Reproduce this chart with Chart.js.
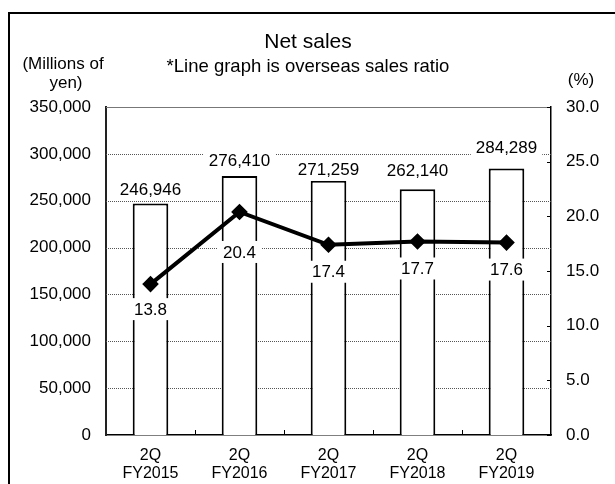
<!DOCTYPE html>
<html>
<head>
<meta charset="utf-8">
<script src="https://cdn.jsdelivr.net/npm/chart.js@4/dist/chart.umd.min.js"></script>
<style>
  html,body{margin:0;padding:0;background:#fff;}
  #wrap{width:615px;height:484px;}
</style>
</head>
<body>
<div id="wrap"><canvas id="c" width="615" height="484"></canvas></div>
<script>
// --- Data ---
const categories = [['2Q','FY2015'],['2Q','FY2016'],['2Q','FY2017'],['2Q','FY2018'],['2Q','FY2019']];
const netSales = [246946, 276410, 271259, 262140, 284289];
const overseasRatio = [13.8, 20.4, 17.4, 17.7, 17.6];
const salesTicks = [0, 50000, 100000, 150000, 200000, 250000, 300000, 350000];
const ratioTicks = [0, 5, 10, 15, 20, 25, 30];

// label offsets (px) - the reference places them by hand
const barLabelGap = [14, 16, 11, 19, 21];
const lineLabelGap = [25, 40, 27, 27, 27];

const FONT = '"Liberation Sans", Arial, sans-serif';

const fmt = v => Number(v).toLocaleString('en-US');

function labelBox(ctx, text, x, y){
  ctx.font = '17px ' + FONT;
  const w = ctx.measureText(text).width + 10;
  const h = 22;
  ctx.fillStyle = '#fff';
  ctx.fillRect(x - w/2, y - h/2, w, h);
  ctx.fillStyle = '#000';
  ctx.textAlign = 'center';
  ctx.textBaseline = 'middle';
  ctx.fillText(text, x, y + 1);
}

const decor = {
  id:'decor',
  beforeDraw(chart){
    const ctx = chart.ctx;
    ctx.save();
    ctx.fillStyle = '#fff';
    ctx.fillRect(0,0,chart.width,chart.height);
    // outer frame (left + top, rest is cropped)
    ctx.strokeStyle = '#000';
    ctx.lineWidth = 2;
    ctx.beginPath();
    ctx.moveTo(9, chart.height); ctx.lineTo(9, 13); ctx.lineTo(chart.width, 13);
    ctx.stroke();
    // titles
    ctx.fillStyle = '#000';
    ctx.textAlign = 'center';
    ctx.textBaseline = 'middle';
    ctx.font = '21px ' + FONT;
    ctx.fillText('Net sales', 308, 42);
    ctx.font = '18.5px ' + FONT;
    ctx.fillText('*Line graph is overseas sales ratio', 308, 67);
    ctx.font = '17px ' + FONT;
    ctx.fillText('(Millions of', 63, 64);
    ctx.fillText('yen)', 66, 83);
    ctx.fillText('(%)', 581, 80);
    ctx.restore();
  },
  beforeDatasetsDraw(chart){
    const ctx = chart.ctx, a = chart.chartArea;
    const y = chart.scales.y, y1 = chart.scales.y1, x = chart.scales.x;
    const top = salesTicks[salesTicks.length-1];
    ctx.save();
    ctx.lineWidth = 1;
    salesTicks.forEach(v => {
      if (v === 0) return;
      const py = Math.round(y.getPixelForValue(v)) + 0.5;
      ctx.strokeStyle = v === top ? '#777' : '#555';
      ctx.setLineDash(v === top ? [] : [1,1]);
      ctx.beginPath(); ctx.moveTo(a.left, py); ctx.lineTo(a.right, py); ctx.stroke();
    });
    ctx.setLineDash([]);
    // right axis inner ticks
    ctx.strokeStyle = '#000';
    ratioTicks.forEach(v => {
      const py = Math.round(y1.getPixelForValue(v)) + 0.5;
      ctx.beginPath(); ctx.moveTo(a.right - 4, py); ctx.lineTo(a.right, py); ctx.stroke();
    });
    // x axis ticks between categories
    for (let i = 1; i < categories.length; i++) {
      const px = Math.round((x.getPixelForValue(i-1) + x.getPixelForValue(i)) / 2) + 0.5;
      ctx.beginPath(); ctx.moveTo(px, a.bottom); ctx.lineTo(px, a.bottom - 5); ctx.stroke();
    }
    ctx.restore();
  },
  afterDatasetsDraw(chart){
    const ctx = chart.ctx;
    ctx.save();
    const bars = chart.getDatasetMeta(1).data;
    bars.forEach((b, i) => labelBox(ctx, fmt(netSales[i]), b.x, b.y - barLabelGap[i]));
    const pts = chart.getDatasetMeta(0).data;
    pts.forEach((p, i) => labelBox(ctx, overseasRatio[i].toFixed(1), p.x, p.y + lineLabelGap[i]));
    ctx.restore();
  }
};

new Chart(document.getElementById('c'), {
  data: {
    labels: categories,
    datasets: [
      {
        type:'line', label:'Overseas sales ratio', data: overseasRatio, yAxisID:'y1',
        borderColor:'#000', borderWidth:4, pointStyle:'rectRot', pointRadius:5.5,
        pointBackgroundColor:'#000', pointBorderColor:'#000', tension:0, order:0
      },
      {
        type:'bar', label:'Net sales', data: netSales, yAxisID:'y',
        backgroundColor:'#fff', borderColor:'#000', borderWidth:2,
        barPercentage:0.4, categoryPercentage:1, order:1
      }
    ]
  },
  options: {
    responsive:false, animation:false,
    layout:{ padding:{ top:107, left:0, right:0, bottom:0 } },
    plugins:{ legend:{display:false}, tooltip:{enabled:false} },
    scales:{
      x:{
        grid:{ display:false, drawTicks:false },
        border:{ color:'#000', width:1.5 },
        ticks:{ color:'#000', font:{ family:FONT, size:16, lineHeight:1.1 }, padding:12, maxRotation:0 },
        afterFit(s){ s.height = 49; }
      },
      y:{
        position:'left', min:0, max:350000,
        grid:{ display:false, drawTicks:false },
        border:{ color:'#222', width:2 },
        ticks:{ stepSize:50000, color:'#000', font:{ family:FONT, size:17 }, padding:15, callback:v => fmt(v) },
        afterFit(s){ s.width = 106; }
      },
      y1:{
        position:'right', min:0, max:30,
        grid:{ display:false, drawTicks:false },
        border:{ color:'#000', width:1.5 },
        ticks:{ stepSize:5, color:'#000', font:{ family:FONT, size:17 }, padding:15, callback:v => Number(v).toFixed(1) },
        afterFit(s){ s.width = 64; }
      }
    }
  },
  plugins:[decor]
});
</script>
</body>
</html>
